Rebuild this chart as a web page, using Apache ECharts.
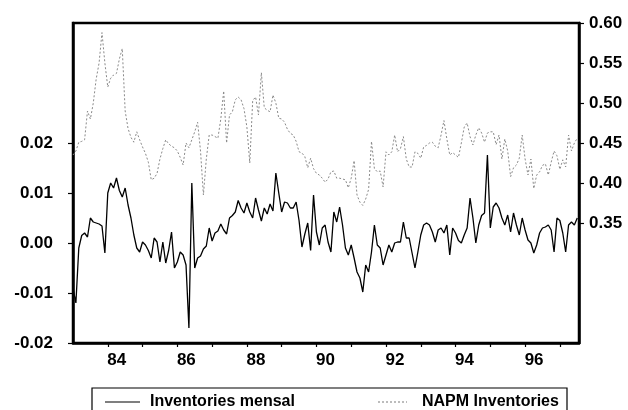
<!DOCTYPE html>
<html>
<head>
<meta charset="utf-8">
<script src="https://cdn.jsdelivr.net/npm/echarts@6/dist/echarts.min.js"></script>
<style>
  html, body { margin: 0; padding: 0; background: #fff; }
  #chart { width: 628px; height: 410px; }
</style>
</head>
<body>
<div id="chart"></div>
<script>
// monthly, starting January 1983
var startYear = 83;

// Inventories mensal (left axis)
var mensal = [
  -0.009, -0.012, -0.001, 0.0015, 0.002, 0.0012, 0.005, 0.0042, 0.004, 0.0038,
  0.0034, -0.002, 0.010, 0.012, 0.011, 0.013, 0.0105, 0.0092, 0.011, 0.0076,
  0.005, 0.0016, -0.001, -0.0018, 0.0002, -0.0004, -0.0015, -0.003, 0.001, 0.0002,
  -0.0038, 0.0002, -0.004, -0.0015, 0.0022, -0.005, -0.0038, -0.0018, -0.0024, -0.0044,
  -0.017, 0.012, -0.005, -0.003, -0.0026, -0.0012, -0.0006, 0.003, 0.0004, 0.002,
  0.0024, 0.0038, 0.0026, 0.0018, 0.005, 0.0055, 0.0062, 0.0085, 0.007, 0.006,
  0.008, 0.0062, 0.005, 0.009, 0.0066, 0.0044, 0.007, 0.0058, 0.0078, 0.0064,
  0.014, 0.010, 0.0062, 0.0082, 0.008, 0.007, 0.007, 0.0082, 0.0045, -0.0008,
  0.0018, 0.004, -0.0015, 0.0096, 0.0022, -0.0004, 0.003, 0.0036, 0.0002, -0.0018,
  0.0062, 0.0042, 0.0072, 0.0036, -0.001, -0.0024, -0.0004, -0.003, -0.0058, -0.007,
  -0.0098, -0.0044, -0.0058, -0.0018, 0.0036, -0.0004, -0.001, -0.0044, -0.0024, -0.0004,
  -0.0018, 0.000, 0.0002, 0.0002, 0.0042, 0.001, 0.001, -0.002, -0.005, -0.0018,
  0.0016, 0.0036, 0.004, 0.0036, 0.0022, 0.0002, 0.0026, 0.003, 0.002, 0.0036,
  -0.0024, 0.003, 0.002, 0.0005, 0.000, 0.0016, 0.003, 0.009, 0.005, 0.000,
  0.0036, 0.0055, 0.006, 0.0176, 0.003, 0.0072, 0.008, 0.007, 0.005, 0.0036,
  0.0056, 0.0022, 0.006, 0.0036, 0.0016, 0.005, 0.0026, 0.0006, 0.000, -0.002,
  -0.0004, 0.002, 0.003, 0.0032, 0.0036, 0.0026, -0.0018, 0.005, 0.0045, 0.002,
  -0.0018, 0.0036, 0.0042, 0.0036, 0.005
];

// NAPM Inventories (right axis)
var napm = [
  0.435, 0.44, 0.451, 0.452, 0.454, 0.49, 0.48, 0.50, 0.53, 0.55,
  0.588, 0.55, 0.52, 0.531, 0.535, 0.537, 0.555, 0.568, 0.49, 0.468,
  0.457, 0.451, 0.464, 0.454, 0.445, 0.437, 0.426, 0.404, 0.406, 0.412,
  0.43, 0.443, 0.454, 0.449, 0.446, 0.444, 0.44, 0.432, 0.4225, 0.45,
  0.444, 0.454, 0.464, 0.476, 0.44, 0.385, 0.43, 0.46, 0.46, 0.458,
  0.456, 0.48, 0.515, 0.45, 0.485, 0.489, 0.504, 0.5075, 0.504, 0.493,
  0.47, 0.425, 0.503, 0.5075, 0.485, 0.538, 0.494, 0.491, 0.489, 0.51,
  0.50, 0.481, 0.48, 0.476, 0.467, 0.462, 0.46, 0.452, 0.439, 0.4375,
  0.433, 0.419, 0.431, 0.418, 0.412, 0.41, 0.406, 0.401, 0.405, 0.414,
  0.415, 0.406, 0.406, 0.405, 0.404, 0.394, 0.406, 0.428, 0.385, 0.376,
  0.372, 0.38, 0.392, 0.452, 0.418, 0.414, 0.415, 0.395, 0.439, 0.435,
  0.439, 0.46, 0.439, 0.443, 0.458, 0.43, 0.42, 0.42, 0.439, 0.437,
  0.431, 0.445, 0.447, 0.45, 0.451, 0.446, 0.444, 0.46, 0.478, 0.455,
  0.435, 0.438, 0.435, 0.432, 0.45, 0.47, 0.475, 0.458, 0.4475, 0.46,
  0.469, 0.4625, 0.451, 0.4625, 0.464, 0.464, 0.448, 0.46, 0.43, 0.455,
  0.44, 0.408, 0.419, 0.4225, 0.431, 0.46, 0.43, 0.41, 0.43, 0.393,
  0.41, 0.414, 0.422, 0.424, 0.41, 0.426, 0.44, 0.434, 0.417, 0.429,
  0.42, 0.46, 0.44, 0.45, 0.456
];

var yearTicks = [84, 85, 86, 87, 88, 89, 90, 91, 92, 93, 94, 95, 96, 97];
var yearLabels = [84, 86, 88, 90, 92, 94, 96];
var leftTicks = [-0.02, -0.01, 0.00, 0.01, 0.02];
var rightTicks = [0.35, 0.40, 0.45, 0.50, 0.55, 0.60];

function toPairs(arr) {
  var out = [];
  for (var i = 0; i < arr.length; i++) {
    out.push([startYear + i / 12, arr[i]]);
  }
  return out;
}

var font = "'Liberation Sans', Arial, sans-serif";

// legend line samples
var solidIcon = 'path://M0,0H35V1H0Z';
var dottedIcon = 'path://M0,0h2v1h-2zM4,0h2v1h-2zM8,0h2v1h-2zM12,0h2v1h-2zM16,0h2v1h-2zM20,0h2v1h-2zM24,0h2v1h-2zM28,0h1v1h-1z';

var myChart = echarts.init(document.getElementById('chart'));
var option = {
  animation: false,
  backgroundColor: '#fff',
  grid: {
    left: 73, right: 49, top: 23, bottom: 67,
    show: true, borderColor: '#000', borderWidth: 2.5
  },
  xAxis: {
    type: 'value',
    min: 83, max: 97.55,
    axisLine: { onZero: false, lineStyle: { color: '#000', width: 2.5 } },
    axisTick: { customValues: yearTicks, length: 4, lineStyle: { color: '#000', width: 1.2 } },
    axisLabel: {
      customValues: yearLabels,
      formatter: function (v) { return String(v); },
      color: '#000', fontFamily: font, fontSize: 17, fontWeight: 'bold',
      margin: 9, padding: [0, 0, 0, 18]
    },
    splitLine: { show: false }
  },
  yAxis: [{
    type: 'value',
    min: -0.02, max: 0.044, interval: 0.01,
    axisLine: { show: true, onZero: false, lineStyle: { color: '#000', width: 2.5 } },
    axisTick: { show: true, customValues: leftTicks, length: 5, lineStyle: { color: '#000', width: 1.2 } },
    axisLabel: {
      customValues: leftTicks,
      formatter: function (v) { return v.toFixed(2); },
      color: '#000', fontFamily: font, fontSize: 17, fontWeight: 'bold', margin: 20
    },
    splitLine: { show: false }
  }, {
    type: 'value',
    position: 'right',
    min: 0.2, max: 0.6, interval: 0.05,
    axisLine: { show: true, onZero: false, lineStyle: { color: '#000', width: 2.5 } },
    axisTick: { show: true, customValues: rightTicks, length: 5, lineStyle: { color: '#000', width: 1.2 } },
    axisLabel: {
      customValues: rightTicks,
      formatter: function (v) { return v.toFixed(2); },
      color: '#000', fontFamily: font, fontSize: 17, fontWeight: 'bold', margin: 10
    },
    splitLine: { show: false }
  }],
  legend: [{
    data: [{ name: 'Inventories mensal', icon: solidIcon }],
    left: 100, top: 388,
    itemWidth: 35, itemHeight: 18,
    itemStyle: { color: '#000' },
    textStyle: { color: '#000', fontFamily: font, fontSize: 16, fontWeight: 'bold', lineHeight: 18, padding: [0, 0, 0, 5] }
  }, {
    data: [{ name: 'NAPM Inventories', icon: dottedIcon }],
    left: 373, top: 388,
    itemWidth: 29, itemHeight: 18,
    itemStyle: { color: '#7a7a7a' },
    textStyle: { color: '#000', fontFamily: font, fontSize: 16, fontWeight: 'bold', lineHeight: 18, padding: [0, 0, 0, 10] }
  }],
  graphic: [{
    type: 'rect',
    shape: { x: 92, y: 388, width: 475, height: 40 },
    style: { fill: 'none', stroke: '#000', lineWidth: 1.2 },
    silent: true
  }],
  series: [{
    name: 'NAPM Inventories',
    type: 'line',
    yAxisIndex: 1,
    data: toPairs(napm),
    symbol: 'none',
    color: '#7a7a7a',
    lineStyle: { color: '#8a8a8a', width: 1, type: [2, 2] }
  }, {
    name: 'Inventories mensal',
    type: 'line',
    yAxisIndex: 0,
    data: toPairs(mensal),
    symbol: 'none',
    color: '#000',
    lineStyle: { color: '#000', width: 1.3 }
  }]
};
myChart.setOption(option);
</script>
</body>
</html>
